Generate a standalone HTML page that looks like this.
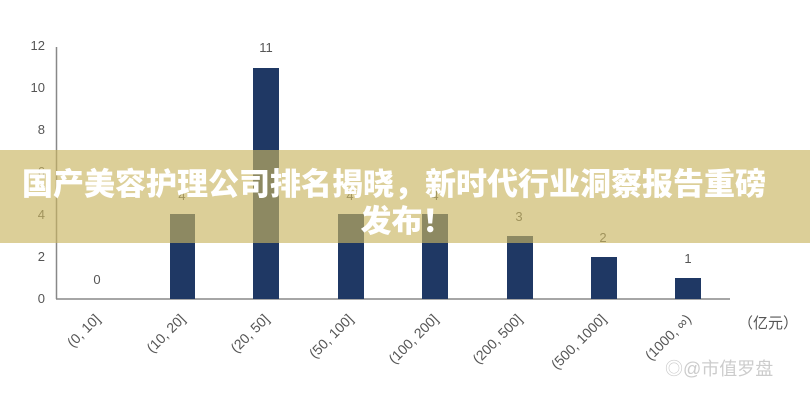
<!DOCTYPE html>
<html><head><meta charset="utf-8"><style>
html,body{margin:0;padding:0;background:#fff;}
svg{display:block;}
</style></head><body>
<svg width="810" height="400" xmlns="http://www.w3.org/2000/svg" font-family="Liberation Sans, Noto Sans CJK SC, sans-serif">
<rect width="810" height="400" fill="#fff"/>
<g fill="#555" font-size="13" text-anchor="end">
<text x="45" y="50">12</text><text x="45" y="92">10</text><text x="45" y="134">8</text>
<text x="45" y="176">6</text><text x="45" y="219">4</text><text x="45" y="261">2</text><text x="45" y="303">0</text>
</g>
<line x1="56.5" y1="47" x2="56.5" y2="299" stroke="#888" stroke-width="1.5"/>
<line x1="56" y1="299" x2="730" y2="299" stroke="#888" stroke-width="1.5"/>
<g fill="#1f3864">
<rect x="170" y="214" width="25" height="85"/>
<rect x="253" y="68" width="26" height="231"/>
<rect x="338" y="214" width="26" height="85"/>
<rect x="422" y="214" width="26" height="85"/>
<rect x="507" y="236" width="26" height="63"/>
<rect x="591" y="257" width="26" height="42"/>
<rect x="675" y="278" width="26" height="21"/>
</g>
<g fill="#555" font-size="13" text-anchor="middle">
<text x="97" y="284">0</text><text x="182" y="200">4</text><text x="266" y="52">11</text>
<text x="350" y="200">4</text><text x="435" y="200">4</text><text x="519" y="221">3</text>
<text x="603" y="242">2</text><text x="688" y="263">1</text>
</g>
<g fill="#555" font-size="14" text-anchor="end">
<text transform="translate(101,320) rotate(-45)">(0, 10]</text>
<text transform="translate(186,320) rotate(-45)">(10, 20]</text>
<text transform="translate(270,320) rotate(-45)">(20, 50]</text>
<text transform="translate(354,320) rotate(-45)">(50, 100]</text>
<text transform="translate(439,320) rotate(-45)">(100, 200]</text>
<text transform="translate(523,320) rotate(-45)">(200, 500]</text>
<text transform="translate(607,320) rotate(-45)">(500, 1000]</text>
<text transform="translate(692,320) rotate(-45)">(1000, ∞)</text>
</g>
<text x="738" y="328" fill="#555" font-size="15">（亿元）</text>
<text x="665" y="375" fill="#ccc" font-size="18">◎@市值罗盘</text>
<rect x="0" y="150" width="810" height="93" fill="rgba(202,181,97,0.65)"/>
<g fill="#fff" font-size="31" font-weight="900" text-anchor="middle" font-family="Noto Sans CJK SC, sans-serif">
<text x="394" y="195">国产美容护理公司排名揭晓，新时代行业洞察报告重磅</text>
<text x="407" y="232">发布！</text>
</g>
</svg>
</body></html>
